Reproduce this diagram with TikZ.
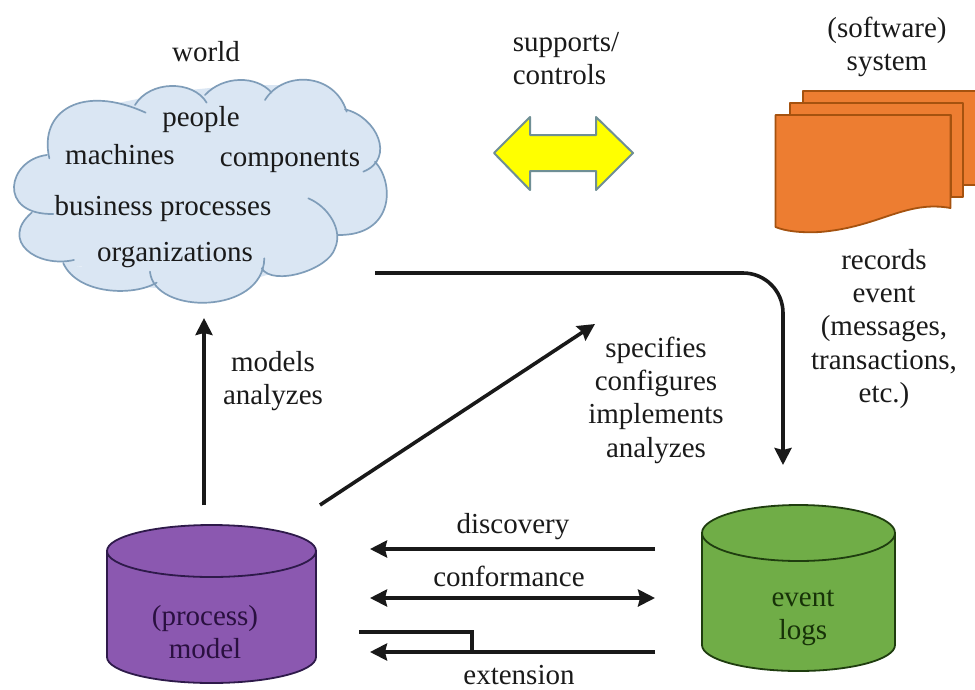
\documentclass[tikz,border=0pt]{standalone}
\usepackage{fontspec}
\setmainfont{Liberation Serif}
\usetikzlibrary{arrows.meta}
\definecolor{cloudfill}{HTML}{DAE6F3}
\definecolor{cloudline}{HTML}{7F9DB9}
\definecolor{docfill}{HTML}{ED7D31}
\definecolor{docline}{HTML}{A5520F}
\definecolor{purplefill}{HTML}{8B58B0}
\definecolor{purpleline}{HTML}{2E1A4A}
\definecolor{purpletext}{HTML}{2A1040}
\definecolor{greenfill}{HTML}{70AD47}
\definecolor{greenline}{HTML}{1F3D0F}
\definecolor{greentext}{HTML}{173208}
\definecolor{arrowfill}{HTML}{FFFF00}
\definecolor{arrowline}{HTML}{6F8F95}
\definecolor{inktext}{HTML}{1A1A1A}
\tikzset{
  lab/.style={inner sep=0pt,align=center,text=inktext,font=\fontsize{29}{33.3}\selectfont},
  conn/.style={line width=3.6pt,-{Stealth[length=17pt,width=17pt,inset=2pt]},black!90},
  connboth/.style={line width=3.6pt,{Stealth[length=17pt,width=17pt,inset=2pt]}-{Stealth[length=17pt,width=17pt,inset=2pt]},black!90},
  bracket/.style={line width=3.6pt,black!90},
  doc/.style={fill=docfill,draw=docline,line width=1.8pt,line join=round},
  purplecyl/.style={fill=purplefill,draw=purpleline,line width=1.8pt},
  greencyl/.style={fill=greenfill,draw=greenline,line width=1.8pt},
  cloudedge/.style={draw=cloudline,line width=1.7pt,line cap=round},
}
\def\lobes{
  (148,295) .. controls (115,150) and (250,72) .. (437,158)
  (405,135) .. controls (450,60) and (580,60) .. (620,128)
  (615,105) .. controls (670,46) and (770,46) .. (815,98)
  (795,120) .. controls (850,30) and (1005,38) .. (1040,155)
  (1035,148) .. controls (1130,170) and (1188,296) .. (1090,335)
  (1125,305) .. controls (1185,370) and (1182,527) .. (1015,525)
  (925,415) .. controls (985,440) and (1030,510) .. (1005,565)
  .. controls (985,630) and (818,680) .. (785,625)
  (793,595) .. controls (790,765) and (462,766) .. (450,635)
  (470,668) .. controls (400,710) and (233,704) .. (190,610)
  (222,600) .. controls (110,625) and (-2,542) .. (95,458)
  (160,462) .. controls (-10,465) and (22,300) .. (140,285)
}
\begin{document}
\begin{tikzpicture}[x=1pt,y=-1pt]
\useasboundingbox (0,0) rectangle (975,689);
\fill[white] (0,0) rectangle (975,689);
% cloud
\begin{scope}[shift={(0,60)},x=0.3333pt,y=-0.3333pt]
  \path[fill=cloudfill] \lobes
    (142,286) -- (405,135) -- (612,108) -- (805,107) -- (1037,150) -- (1125,305) -- (1015,525) -- (790,628) -- (458,652) -- (195,612) -- (95,458) -- cycle
    (80,370) -- (150,280) -- (300,140) -- (520,95) -- (720,75) -- (920,75) -- (1100,230) -- (1150,400) -- (1000,540) -- (850,630) -- (620,700) -- (330,670) -- (110,540) -- cycle;
  \path[cloudedge] \lobes;
\end{scope}
% documents
\path[fill=docfill] (803,91) rectangle (975,185);
\draw[doc,fill=none] (803,103) -- (803,91) -- (975,91);
\draw[doc,fill=none] (975,185) -- (963,185);
\draw[doc] (790,115) -- (790,103) -- (963,103) -- (963,197) -- (951,197) -- (951,115) -- cycle;
\draw[doc] (775.5,115) -- (950.5,115) -- (950.5,208) .. controls (905,200) and (880,227) .. (820,232) .. controls (800,233) and (785,231) .. (775.5,227) -- cycle;
% yellow arrow
\draw[fill=arrowfill,draw=arrowline,line width=2pt,line join=round] (494,153) -- (530,117) -- (530,135) -- (596,135) -- (596,117) -- (633,153) -- (596,190) -- (596,171) -- (530,171) -- (530,190) -- cycle;
% cylinders
\draw[purplecyl] (107,551) -- (107,657) arc[start angle=180,end angle=360,x radius=104.5pt,y radius=26pt] -- (316,551);
\draw[purplecyl] (211.5,551) ellipse[x radius=104.5pt,y radius=26pt];
\draw[greencyl] (702,533) -- (702,645) arc[start angle=180,end angle=360,x radius=96.5pt,y radius=26pt] -- (895,533);
\draw[greencyl] (798.5,533) ellipse[x radius=96.5pt,y radius=28pt];
% labels
\node[lab] (world) at (206,52) {world};
\node[lab] (people) at (201,120) {people};
\node[lab] (machines) at (120,155) {machines};
\node[lab] (components) at (290,161) {components};
\node[lab] (business) at (163,209) {business processes};
\node[lab] (organizations) at (175,255) {organizations};
\node[lab,align=left] (supports) at (566,58.5) {supports/\\controls};
\node[lab] (system) at (887,47) {(software)\\system};
\node[lab] (records) at (884,329) {records\\event\\(messages,\\transactions,\\etc.)};
\node[lab] (models) at (273,381) {models\\analyzes};
\node[lab] (specifies) at (656,400) {specifies\\configures\\implements\\analyzes};
\node[lab] (discovery) at (513,527) {discovery};
\node[lab] (conformance) at (509,576) {conformance};
\node[lab] (extension) at (519,675) {extension};
\node[lab,text=purpletext] (process) at (205,632) {(process)\\model};
\node[lab,text=greentext] (logs) at (803,618) {event\\logs};
% connector ends
\coordinate (mA) at (204,505);
\coordinate (mB) at (204,318);
\coordinate (dA) at (320,505);
\coordinate (dB) at (595,324);
\coordinate (rA) at (375,273);
\coordinate (rB) at (783,465);
\coordinate (dsA) at (655,549);
\coordinate (dsB) at (370,549);
\coordinate (cfA) at (370,598);
\coordinate (cfB) at (655,598);
\coordinate (exA) at (655,652);
\coordinate (exB) at (370,652);
\coordinate (brA) at (359,632);
\coordinate (brB) at (472,652);
% connectors
\draw[conn] (mA) -- (mB);
\draw[conn] (dA) -- (dB);
\draw[conn,rounded corners=40pt] (rA) -| (rB);
\draw[conn] (dsA) -- (dsB);
\draw[connboth] (cfA) -- (cfB);
\draw[conn] (exA) -- (exB);
\draw[bracket] (brA) -| (brB);
\end{tikzpicture}
\end{document}
